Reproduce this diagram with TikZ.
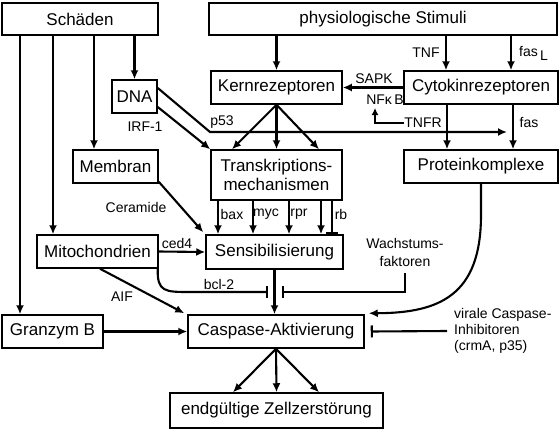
\documentclass[tikz,border=0pt]{standalone}
\usepackage{fontspec}
\setmainfont{Liberation Sans}
\usetikzlibrary{arrows.meta}
\begin{document}
\begin{tikzpicture}[x=1pt,y=-1pt,
  box/.style={draw,line width=1.5pt,inner sep=0pt,font=\fontsize{17}{19.5}\selectfont,align=center},
  lab/.style={inner sep=0pt,font=\fontsize{14}{16}\selectfont},
  ln/.style={line width=2.1pt},
  arr/.style={line width=2.1pt,-{Latex[length=9pt,width=8pt]}},
  inh/.style={line width=2.1pt,-{Bar[width=12pt,line width=2.1pt]}}]
\useasboundingbox (0,0) rectangle (560,434);
% boxes
\node[box,minimum width=156pt,minimum height=32pt] (sch) at (80,19) {Schäden};
\node[box,minimum width=348pt,minimum height=32pt] (phys) at (383,19) {physiologische Stimuli};
\node[box,minimum width=45pt,minimum height=33pt] (dna) at (134.5,96.5) {DNA};
\node[box,minimum width=131pt,minimum height=33pt] (kern) at (276.5,87.5) {Kernrezeptoren};
\node[box,minimum width=154pt,minimum height=33pt] (cyto) at (481,87.5) {Cytokinrezeptoren};
\node[box,minimum width=85pt,minimum height=33pt] (memb) at (115.5,166.5) {Membran};
\node[box,minimum width=131pt,minimum height=50pt] (trans) at (276.5,175) {Transkriptions-\\mechanismen};
\node[box,minimum width=154pt,minimum height=33pt] (prot) at (481,166.5) {Proteinkomplexe};
\node[box,minimum width=121pt,minimum height=33pt] (mito) at (97.5,251.5) {Mitochondrien};
\node[box,minimum width=137pt,minimum height=34pt] (sens) at (274.5,252) {Sensibilisierung};
\node[box,minimum width=101pt,minimum height=33pt] (gran) at (52.5,331.5) {Granzym B};
\node[box,minimum width=176pt,minimum height=33pt] (casp) at (276,331.5) {Caspase-Aktivierung};
\node[box,minimum width=213pt,minimum height=35pt] (endz) at (276.5,410.5) {endgültige Zellzerstörung};
% labels
\node[lab] (tnf) at (426,53) {TNF};
\node[lab,anchor=west] (fasl) at (519,53) {fas\,\raisebox{-4pt}{L}};
\node[lab] (sapk) at (374,79) {SAPK};
\node[lab] (nfkb) at (385,100) {NFκ\,B};
\node[lab] (tnfr) at (423,123) {TNFR};
\node[lab] (fas) at (529,123) {fas};
\node[lab] (p53) at (222,122) {p53};
\node[lab] (irf) at (145,127) {IRF-1};
\node[lab] (cer) at (136,207) {Ceramide};
\node[lab] (bax) at (232,214) {bax};
\node[lab] (myc) at (266,214) {myc};
\node[lab] (rpr) at (299,214) {rpr};
\node[lab] (rb) at (341,214) {rb};
\node[lab] (ced) at (177,243) {ced4};
\node[lab] (bcl) at (219,284) {bcl-2};
\node[lab] (aif) at (122,297) {AIF};
\node[lab,align=center,font=\fontsize{14}{18}\selectfont] (wachs) at (405,252) {Wachstums-\\faktoren};
\node[lab,align=left,anchor=west] (vir) at (454,331) {virale Caspase-\\Inhibitoren\\(crmA, p35)};
% Schäden arrows
\draw[arr] (sch.south -| 20,0) -- (gran.north -| 20,0);
\draw[arr] (sch.south -| 53,0) -- (mito.north -| 53,0);
\draw[arr] (sch.south -| 94,0) -- (memb.north -| 94,0);
\draw[arr] (sch.south -| 134.5,0) -- (dna.north);
% physiologische
\draw[arr] (phys.south -| kern.north) -- (kern.north);
\draw[arr] (phys.south -| 446,0) -- (cyto.north -| 446,0);
\draw[arr] (phys.south -| 511,0) -- (cyto.north -| 511,0);
% SAPK
\draw[arr] (cyto.west) -- (kern.east);
% TNFR
\coordinate (tnfrc) at (375,123);
\draw[ln,-{Latex[length=7pt,width=7pt]}] (tnfr.west) -- (tnfrc) -- (375,108);
% cyto -> prot
\draw[arr] (cyto.south -| 447,0) -- (prot.north -| 447,0);
\draw[arr] (cyto.south -| 513,0) -- (prot.north -| 513,0);
% DNA
\draw[arr] (dna.east |- 0,88) -- (210,132) -- (507,132);
\draw[arr] (dna.east |- 0,107) -- (trans.north west);
% kern -> trans
\draw[arr] (kern.south) -- (trans.north -| 232,0);
\draw[arr] (kern.south) -- (trans.north);
\draw[arr] (kern.south) -- (trans.north -| 319,0);
% membran
\draw[arr] ([yshift=2pt]memb.south east) -- ([xshift=-2pt,yshift=2pt]sens.north west);
% trans -> sens
\foreach \xx in {218,253,289,321}{
  \draw[arr] (trans.south -| \xx,0) -- (sens.north -| \xx,0);
}
\draw[inh] (trans.south -| 332,0) -- (sens.north -| 332,0);
% mito
\draw[arr] (mito.east) -- (sens.west);
\draw[inh] ([xshift=-1pt]mito.south east) .. controls (157,292) and (165,292) .. (190,292) -- (268,292);
\draw[arr] (mito.south -| 100,0) -- ([xshift=-3pt,yshift=1pt]casp.north west);
% sens -> casp
\draw[arr] (sens.south) -- (sens.south |- casp.north);
% wachstum
\draw[inh] (405,273) -- (405,292) -- (282,292);
% prot -> casp
\draw[arr] (prot.south) -- (481,215) .. controls (481,295) and (440,313) .. ([xshift=4pt,yshift=1pt]casp.north east);
% granzym
\draw[arr] (gran.east) -- (casp.west);
% viral
\draw[inh] ([xshift=-7pt]vir.west) -- ([xshift=6pt]casp.east);
% casp -> end
\draw[arr] (casp.south) -- (endz.north -| 233,0);
\draw[arr] (casp.south) -- (endz.north);
\draw[arr] (casp.south) -- (endz.north -| 319,0);
\end{tikzpicture}
\end{document}
